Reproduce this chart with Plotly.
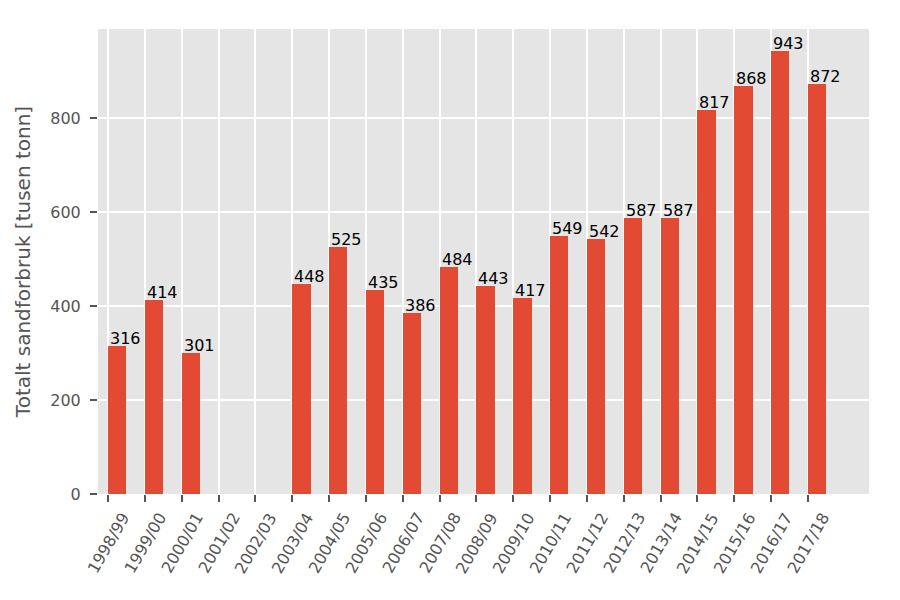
import plotly.graph_objects as go

seasons = ["1998/99", "1999/00", "2000/01", "2001/02", "2002/03", "2003/04", "2004/05",
           "2005/06", "2006/07", "2007/08", "2008/09", "2009/10", "2010/11", "2011/12",
           "2012/13", "2013/14", "2014/15", "2015/16", "2016/17", "2017/18"]
sand_values = [316, 414, 301, None, None, 448, 525, 435, 386, 484, 443, 417, 549, 542,
               587, 587, 817, 868, 943, 872]
y_ticks = [0, 200, 400, 600, 800]

FONT = "DejaVu Sans"
GREY = "#555555"
positions = list(range(len(seasons)))

fig = go.Figure()
fig.add_trace(go.Bar(
    x=positions, y=sand_values, width=0.5, offset=0,
    marker=dict(color="#E24A33", line=dict(width=0)),
    showlegend=False, hoverinfo="skip",
))

annotations = []
for i, v in zip(positions, sand_values):
    if v is None:
        continue
    annotations.append(dict(
        x=i, y=v, xref="x", yref="y", text=str(v), showarrow=False,
        xanchor="left", yanchor="bottom", yshift=-4,
        font=dict(family=FONT, size=16, color="black"),
    ))
for i, lab in zip(positions, seasons):
    annotations.append(dict(
        x=i, y=0, xref="x", yref="y", text=lab, showarrow=False,
        xanchor="center", yanchor="top", yshift=-13, textangle=-60,
        font=dict(family=FONT, size=16, color=GREY),
    ))

fig.update_layout(
    width=900, height=600,
    margin=dict(l=98, r=31, t=29, b=106),
    paper_bgcolor="white", plot_bgcolor="#E5E5E5",
    font=dict(family=FONT, size=16, color=GREY),
    annotations=annotations,
    bargap=0,
)
fig.update_xaxes(
    range=[-0.2715, 20.66], tickvals=positions, showticklabels=False,
    ticks="outside", ticklen=7, tickwidth=1.5, tickcolor=GREY,
    showgrid=True, gridcolor="white", gridwidth=2, zeroline=False,
    showline=True, linecolor="white", linewidth=1,
)
fig.update_yaxes(
    range=[0, 990], tickvals=y_ticks,
    ticks="outside", ticklen=7, tickwidth=1.5, tickcolor=GREY,
    tickfont=dict(family=FONT, size=16, color=GREY), ticklabelstandoff=6,
    showgrid=True, gridcolor="white", gridwidth=2, zeroline=False,
    showline=True, linecolor="white", linewidth=1,
    title=dict(text="Totalt sandforbruk [tusen tonn]", font=dict(family=FONT, size=20, color=GREY), standoff=14),
)

fig.write_html("out.html")
